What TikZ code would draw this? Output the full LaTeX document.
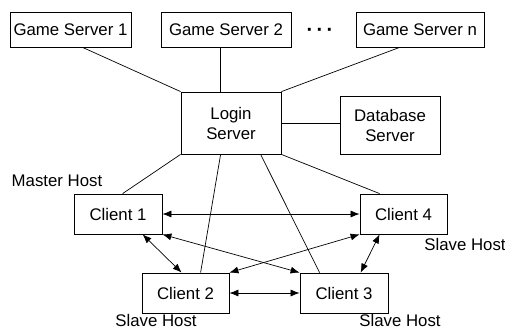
\documentclass[tikz,border=0pt]{standalone}
\usepackage{fontspec}
\setmainfont{Liberation Sans}
\usetikzlibrary{arrows.meta}
\begin{document}
\begin{tikzpicture}[x=1pt,y=-1pt,
  box/.style={draw,line width=0.8pt,inner sep=0pt,align=center,font=\fontsize{16.8}{20}\selectfont},
  conn/.style={line width=0.7pt},
  biarrow/.style={line width=0.7pt,{Latex[length=9pt,width=7pt]}-{Latex[length=9pt,width=7pt]}},
  lbl/.style={font=\fontsize{16.8}{20}\selectfont,inner sep=0pt}]
\useasboundingbox (0,0) rectangle (505,330);
\node[box,minimum width=121pt,minimum height=35pt] (gs1) at (70.5,29.5) {Game Server 1};
\node[box,minimum width=130pt,minimum height=35pt] (gs2) at (226,29.5) {Game Server 2};
\node[box,minimum width=128pt,minimum height=35pt] (gsn) at (420,29.5) {Game Server n};
\node[lbl,font=\fontsize{20}{20}\selectfont\bfseries] (dots) at (320,32) {·\,·\,·};
\node[box,minimum width=100pt,minimum height=62pt] (login) at (231,123) {Login\\Server};
\node[box,minimum width=100pt,minimum height=58pt] (db) at (390,125) {Database\\Server};
\node[box,minimum width=88pt,minimum height=40pt] (c1) at (118,214) {Client 1};
\node[box,minimum width=87pt,minimum height=40pt] (c4) at (403.5,214) {Client 4};
\node[box,minimum width=87pt,minimum height=40pt] (c2) at (185.5,293) {Client 2};
\node[box,minimum width=88pt,minimum height=40pt] (c3) at (344,293) {Client 3};
\node[lbl] (mh) at (57,181) {Master Host};
\node[lbl] (sh4) at (465,244) {Slave Host};
\node[lbl] (sh2) at (156,320) {Slave Host};
\node[lbl] (sh3) at (400,320) {Slave Host};
\draw[conn] ([xshift=73pt]gs1.south west) -- (login.north west);
\draw[conn] ([xshift=60pt]gs2.south west) -- ([xshift=40pt]login.north west);
\draw[conn] ([xshift=44pt]gsn.south west) -- (login.north east);
\draw[conn] (login.east) -- (login.east -| db.west);
\draw[conn] (login.south west) -- ([xshift=49pt]c1.north west);
\draw[conn] ([xshift=40pt]login.south west) -- ([xshift=59pt]c2.north west);
\draw[conn] ([xshift=80pt]login.south west) -- ([xshift=20pt]c3.north west);
\draw[conn] (login.south east) -- ([xshift=20pt]c4.north west);
\draw[biarrow] (c1.east) -- (c4.west);
\draw[biarrow] ([xshift=69pt]c1.south west) -- ([xshift=40pt]c2.north west);
\draw[biarrow] (c1.south east) -- (c3.north west);
\draw[biarrow] (c4.south west) -- (c2.north east);
\draw[biarrow] ([xshift=20pt]c4.south west) -- ([xshift=61pt]c3.north west);
\draw[biarrow] (c2.east) -- (c3.west);
\end{tikzpicture}
\end{document}
